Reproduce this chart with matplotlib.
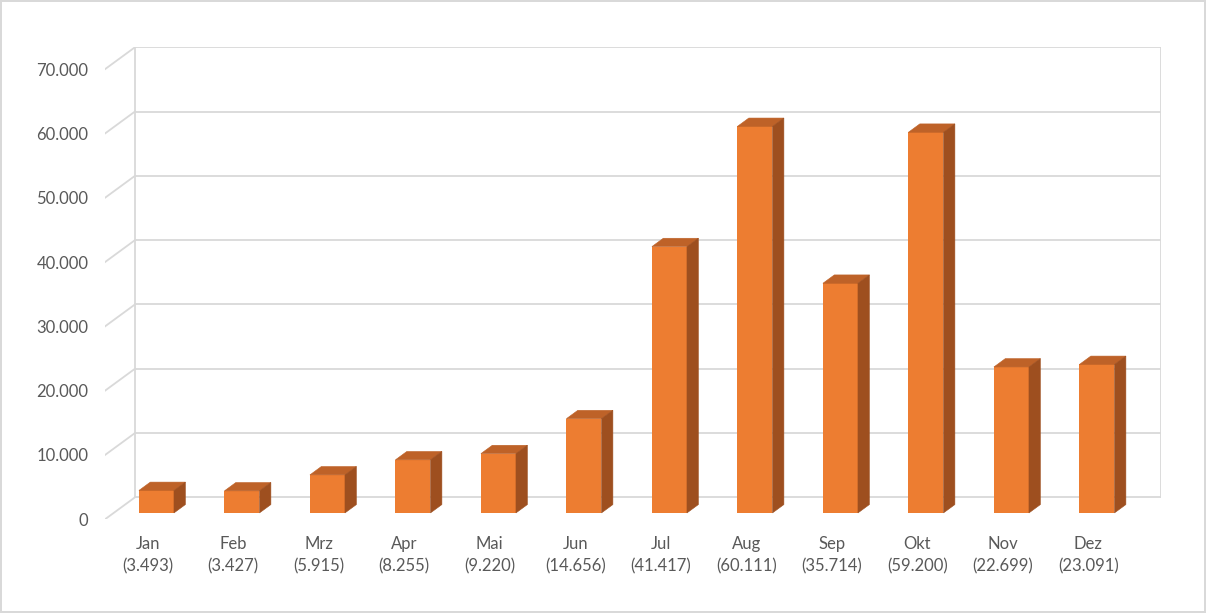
import matplotlib
matplotlib.use("Agg")
import matplotlib.pyplot as plt
from matplotlib.patches import Polygon

months = ["Jan", "Feb", "Mrz", "Apr", "Mai", "Jun", "Jul", "Aug", "Sep", "Okt", "Nov", "Dez"]
values = [3493, 3427, 5915, 8255, 9220, 14656, 41417, 60111, 35714, 59200, 22699, 23091]
yticks = [0, 10000, 20000, 30000, 40000, 50000, 60000, 70000]


def de(n):
    return f"{n:,}".replace(",", ".")


plt.rcParams["font.family"] = ["Lato", "DejaVu Sans"]

fig = plt.figure(figsize=(12.06, 6.13), dpi=100)
fig.patch.set_edgecolor("#D9D9D9")
fig.patch.set_linewidth(1.5)

# depth of the 3d box in data units (x in categories, y in values)
ddx = 0.351
ddy = 3421
f0, f1 = 0.29, 0.67
width = 0.41
n = len(months)

ax = fig.add_axes([105 / 1206, 1 - 519.3 / 613, 1056 / 1206, 472.1 / 613])
ax.set_xlim(0, n + ddx)
ax.set_ylim(0, yticks[-1] + ddy)
for s in ax.spines.values():
    s.set_visible(False)

grid = "#D9D9D9"
# back wall, side wall lines
for v in yticks:
    ax.plot([ddx, n + ddx], [v + ddy, v + ddy], color=grid, lw=1.3, zorder=1)
    ax.plot([0, ddx], [v, v + ddy], color=grid, lw=1.3, zorder=1)
ax.plot([ddx, ddx], [ddy, yticks[-1] + ddy], color=grid, lw=1.3, zorder=1)
ax.plot([n + ddx, n + ddx], [ddy, yticks[-1] + ddy], color=grid, lw=1.3, zorder=1)

front_c = "#ED7D31"
top_c = "#BE6228"
side_c = "#9E4F1F"

xs = [i + 0.5 + f0 * ddx for i in range(n)]
ax.bar(xs, values, width=width, bottom=f0 * ddy, color=front_c, zorder=3)
sx = (f1 - f0) * ddx
sy = (f1 - f0) * ddy
for x, v in zip(xs, values):
    l, r = x - width / 2, x + width / 2
    b, t = f0 * ddy, f0 * ddy + v
    ax.add_patch(Polygon([(l, t), (r, t), (r + sx, t + sy), (l + sx, t + sy)],
                         closed=True, facecolor=top_c, edgecolor=top_c, lw=0.4, zorder=3))
    ax.add_patch(Polygon([(r, b), (r + sx, b + sy), (r + sx, t + sy), (r, t)],
                         closed=True, facecolor=side_c, edgecolor=side_c, lw=0.4, zorder=3))

ax.set_yticks(yticks)
ax.set_yticklabels([de(v) for v in yticks])
ax.set_xticks([i + 0.5 for i in range(n)])
ax.set_xticklabels([f"{m}\n({de(v)})" for m, v in zip(months, values)], linespacing=1.5)
ax.tick_params(axis="y", length=0, pad=12, labelsize=12, labelcolor="#595959")
ax.tick_params(axis="x", length=0, pad=12, labelsize=12, labelcolor="#595959")

fig.savefig("out.png", dpi=100)
